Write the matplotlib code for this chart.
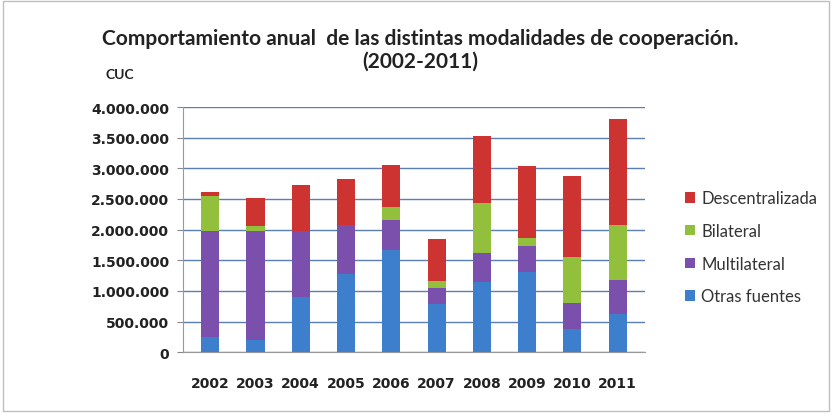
import numpy as np
import matplotlib.pyplot as plt
from matplotlib.ticker import FuncFormatter
from matplotlib.patches import Rectangle

years = ['2002', '2003', '2004', '2005', '2006', '2007', '2008', '2009', '2010', '2011']
otras = [250000, 200000, 900000, 1270000, 1670000, 780000, 1140000, 1300000, 380000, 620000]
multilateral = [1720000, 1780000, 1070000, 800000, 480000, 260000, 470000, 440000, 430000, 550000]
bilateral = [580000, 80000, 0, 0, 220000, 120000, 820000, 120000, 740000, 900000]
descentralizada = [70000, 450000, 750000, 760000, 680000, 690000, 1100000, 1180000, 1320000, 1730000]

series = [('Otras fuentes', otras, '#3d7fcc'),
          ('Multilateral', multilateral, '#7b50ad'),
          ('Bilateral', bilateral, '#93c03c'),
          ('Descentralizada', descentralizada, '#cc3331')]

plt.rcParams['font.family'] = ['Lato', 'DejaVu Sans']

fig = plt.figure(figsize=(8.32, 4.14), dpi=100)
fig.patches.append(Rectangle((0.004, 0.006), 0.992, 0.988, transform=fig.transFigure,
                             fill=False, edgecolor='#bfbfbf', linewidth=1))
ax = fig.add_axes([0.22, 0.147, 0.555, 0.592])

x = np.arange(len(years))
bottom = np.zeros(len(years))
handles = []
for name, vals, col in series:
    vals = np.array(vals, dtype=float)
    b = ax.bar(x, vals, width=0.4, bottom=bottom, color=col, label=name, zorder=3)
    handles.append(b)
    bottom += vals

ax.set_ylim(0, 4000000)
ax.set_xlim(-0.6, len(years) - 0.4)
ax.set_yticks(np.arange(0, 4000001, 500000))
ax.yaxis.set_major_formatter(FuncFormatter(lambda v, p: f'{int(v):,}'.replace(',', '.')))
ax.grid(axis='y', color='#5b7fb5', linewidth=1, zorder=0)
ax.set_xticks(x)
ax.set_xticklabels(years)
ax.tick_params(axis='x', length=0, pad=17)
ax.tick_params(axis='y', length=4, color='#888888', pad=6)
for lbl in ax.get_xticklabels() + ax.get_yticklabels():
    lbl.set_fontfamily('DejaVu Sans')
    lbl.set_fontsize(10)
    lbl.set_fontweight('bold')
    lbl.set_color('#222222')
for s in ['top', 'right']:
    ax.spines[s].set_visible(False)
ax.spines['left'].set_color('#999999')
ax.spines['bottom'].set_color('#999999')

fig.text(0.505, 0.905, 'Comportamiento anual  de las distintas modalidades de cooperación.',
         ha='center', va='center', fontsize=15, fontweight='bold', color='#222222')
fig.text(0.505, 0.85, '(2002-2011)', ha='center', va='center', fontsize=15,
         fontweight='bold', color='#222222')
fig.text(0.127, 0.818, 'CUC', ha='left', va='center', fontsize=10,
         fontweight='bold', color='#222222')

leg = fig.legend(handles[::-1], [s[0] for s in series][::-1], loc='center left',
                 bbox_to_anchor=(0.805, 0.4), frameon=False, fontsize=12,
                 handlelength=0.6, handleheight=0.6, handletextpad=0.4, labelspacing=1.0)
for t in leg.get_texts():
    t.set_color('#333333')

fig.savefig('out.png', dpi=100)
